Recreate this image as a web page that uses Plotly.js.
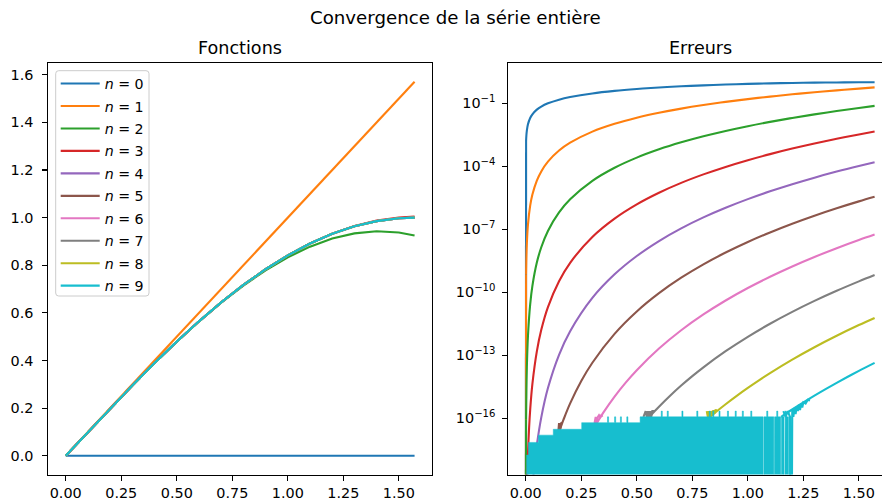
<!DOCTYPE html>
<html>
<head>
<meta charset="utf-8">
<script src="https://cdn.plot.ly/plotly-3.0.1.min.js"></script>
<style>html,body{margin:0;padding:0;background:#fff;}#chart{width:882px;height:503px;}</style>
</head>
<body>
<div id="chart"></div>
<script>
// ---------- DATA ----------
const colors = ["#1f77b4","#ff7f0e","#2ca02c","#d62728","#9467bd","#8c564b","#e377c2","#7f7f7f","#bcbd22","#17becf"];

// Left panel: "Fonctions" (partial sums)
const xF = [0,0.1,0.2,0.3,0.4,0.5,0.6,0.7,0.8,0.9,1.0,1.1,1.2,1.3,1.4,1.5,1.5708];
const f0 = [0,0,0,0,0,0,0,0,0,0,0,0,0,0,0,0,0];
const f1 = [0,0.1,0.2,0.3,0.4,0.5,0.6,0.7,0.8,0.9,1.0,1.1,1.2,1.3,1.4,1.5,1.5708];
const f2 = [0,0.0998333,0.1986667,0.2955,0.3893333,0.4791667,0.564,0.6428333,0.7146667,0.7785,0.8333333,0.8781667,0.912,0.9338333,0.9426667,0.9375,0.9248323];
const f3 = [0,0.0998334,0.1986693,0.2955203,0.3894187,0.4794271,0.564648,0.6442339,0.7173974,0.7834208,0.8416667,0.8915876,0.932736,0.9647744,0.9874854,1.0007813,1.0045249];
const f4 = [0,0.0998334,0.1986693,0.2955202,0.3894183,0.4794255,0.5646425,0.6442176,0.7173558,0.7833259,0.8414683,0.8912009,0.932025,0.9635294,0.9853939,0.9973912,0.9998431];
const f5 = [0,0.0998334,0.1986693,0.2955202,0.3894183,0.4794255,0.5646425,0.6442177,0.7173561,0.7833269,0.8414710,0.8912074,0.9320392,0.9635586,0.9854508,0.9974971,1.0000035];
const f6 = [0,0.0998334,0.1986693,0.2955202,0.3894183,0.4794255,0.5646425,0.6442177,0.7173561,0.7833269,0.8414710,0.8912074,0.9320391,0.9635582,0.9854497,0.9974950,1.0000000];
const f7 = [0,0.0998334,0.1986693,0.2955202,0.3894183,0.4794255,0.5646425,0.6442177,0.7173561,0.7833269,0.8414710,0.8912074,0.9320391,0.9635582,0.9854497,0.9974950,1.0000000];
const f8 = [0,0.0998334,0.1986693,0.2955202,0.3894183,0.4794255,0.5646425,0.6442177,0.7173561,0.7833269,0.8414710,0.8912074,0.9320391,0.9635582,0.9854497,0.9974950,1.0000000];
const f9 = [0,0.0998334,0.1986693,0.2955202,0.3894183,0.4794255,0.5646425,0.6442177,0.7173561,0.7833269,0.8414710,0.8912074,0.9320391,0.9635582,0.9854497,0.9974950,1.0000000];

// Right panel: "Erreurs" (absolute error, log scale). Smooth parts:
const xE0 = [0.0016,0.003,0.005,0.01,0.02,0.03,0.05,0.07,0.1,0.15,0.2,0.3,0.4,0.5,0.6,0.7,0.8,0.9,1.0,1.1,1.2,1.3,1.4,1.5,1.5708];
const e0 = [1.6e-3,3.0e-3,5.0e-3,1.0e-2,1.9999e-2,2.9996e-2,4.9979e-2,6.9943e-2,9.9833e-2,0.149438,0.198669,0.295520,0.389418,0.479426,0.564642,0.644218,0.717356,0.783327,0.841471,0.891207,0.932039,0.963558,0.985450,0.997495,1.0];
const xE1 = xE0;
const e1 = [6.83e-10,4.50e-9,2.083e-8,1.6667e-7,1.3333e-6,4.4998e-6,2.0831e-5,5.715e-5,1.6658e-4,5.619e-4,1.3307e-3,4.4798e-3,1.05817e-2,2.05745e-2,3.53575e-2,5.57823e-2,8.26439e-2,0.1166731,0.158529,0.2087926,0.2679609,0.3364418,0.4145503,0.502505,0.5707963];
const xE2 = xE0;
const e2 = [8.74e-17,2.025e-15,2.604e-14,8.333e-13,2.667e-11,2.025e-10,2.604e-9,1.4006e-8,8.331e-8,6.325e-7,2.6641e-6,2.0207e-5,8.501e-5,2.5888e-4,6.4248e-4,1.38435e-3,2.6894e-3,4.8269e-3,8.1377e-3,1.30407e-2,2.00391e-2,2.97249e-2,4.2783e-2,5.9995e-2,7.5168e-2];
const xE3 = [0.005,0.007,0.01,0.015,0.02,0.03,0.05,0.07,0.1,0.15,0.2,0.3,0.4,0.5,0.6,0.7,0.8,0.9,1.0,1.1,1.2,1.3,1.4,1.5,1.5708];
const e3 = [1.55e-20,1.63e-19,1.984e-18,3.39e-17,2.54e-16,4.339e-15,1.550e-13,1.634e-12,1.984e-11,3.389e-10,2.5383e-9,4.3339e-8,3.2436e-7,1.54473e-6,5.52661e-6,1.62294e-5,4.12423e-5,9.38403e-5,1.95682e-4,3.80224e-4,6.96916e-4,1.21624e-3,2.03562e-3,3.2863e-3,4.525e-3];
const xE4 = [0.03,0.04,0.05,0.07,0.1,0.15,0.2,0.3,0.4,0.5,0.6,0.7,0.8,0.9,1.0,1.1,1.2,1.3,1.4,1.5,1.5708];
const e4 = [5.42e-20,7.22e-19,5.383e-18,1.112e-16,2.7557e-15,1.0593e-13,1.4099e-12,5.4199e-11,7.21348e-10,5.37006e-9,2.76806e-8,1.10711e-7,3.67725e-7,1.05981e-6,2.73084e-6,6.42694e-6,1.40341e-5,2.87791e-5,5.59346e-5,1.03799e-4,1.56899e-4];
const xE5 = [0.1,0.12,0.14,0.15,0.16,0.17,0.2,0.25,0.3,0.4,0.5,0.6,0.7,0.8,0.9,1.0,1.1,1.2,1.3,1.4,1.5,1.5708];
const e5 = [2.505e-19,1.862e-18,1.01e-17,2.167e-17,4.41e-17,8.59e-17,5.131e-16,5.974e-15,4.435e-14,1.0496e-12,1.2213e-11,9.068e-11,4.938e-10,2.1426e-9,7.819e-9,2.4892e-8,7.0912e-8,1.8445e-7,4.4417e-7,1.00179e-6,2.13536e-6,3.5417e-6];
const xE6 = [0.25,0.3,0.33,0.35,0.4,0.45,0.5,0.6,0.7,0.8,0.9,1.0,1.1,1.2,1.3,1.4,1.5,1.5708];
const e6 = [2.393e-18,2.56e-17,8.84e-17,1.9e-16,1.0776e-15,4.98e-15,1.9583e-14,2.0934e-13,1.5524e-12,8.8018e-12,4.0647e-11,1.5983e-10,5.5099e-10,1.7062e-9,4.8245e-9,1.2625e-8,3.0917e-8,5.6255e-8];
const xE7 = [0.5,0.52,0.55,0.58,0.6,0.65,0.7,0.75,0.8,0.9,1.0,1.1,1.2,1.3,1.4,1.5,1.5708];
const e7 = [2.333e-17,4.2e-17,9.75e-17,2.16e-16,3.594e-16,1.194e-15,3.625e-15,1.0219e-14,2.684e-14,1.5693e-13,7.6191e-13,3.1794e-12,1.1717e-11,3.8893e-11,1.1810e-10,3.3209e-10,6.628e-10];
const xE8 = [0.75,0.8,0.82,0.85,0.87,0.9,0.95,1.0,1.05,1.1,1.2,1.3,1.4,1.5,1.5708];
const e8 = [2.11e-17,6.33e-17,9.63e-17,1.774e-16,2.634e-16,4.688e-16,1.1755e-15,2.8033e-15,6.425e-15,1.4158e-14,6.2102e-14,2.4187e-13,8.5234e-13,2.7511e-12,6.0235e-12];
const xE9 = [1.15,1.2,1.25,1.3,1.35,1.4,1.45,1.5,1.5708];
const e9 = [1.170e-16,2.626e-16,5.705e-16,1.197e-15,2.4507e-15,4.8901e-15,9.5217e-15,1.8130e-14,4.3509e-14];

// Right panel: round-off / zero-error parts (0 = exact zero error)
const xN0 = [0,0.0016], eN0 = [0,1.6e-3];
const xN1 = [0,0.0016], eN1 = [0,6.83e-10];
const xN2 = [0,0.0016], eN2 = [0,8.74e-17];
const xN5 = [0.145,0.15,0.155,0.16,0.165], eN5 = [1.4e-17,5.9e-17,3.0e-17,5.9e-17,6.18e-17];
const xN6 = [0.31,0.315,0.32,0.325,0.33,0.335,0.34,0.345], eN6 = [6.0e-17,1.17e-16,6.0e-17,1.17e-16,1.4e-16,1.17e-16,1.45e-16,1.17e-16];
const xN7 = [0.53,0.54,0.545,0.55,0.555,0.56,0.565,0.57,0.575,0.58], eN7 = [1.17e-16,2.2e-16,1.17e-16,2.2e-16,1.17e-16,2.2e-16,1.17e-16,2.2e-16,2.2e-16,2.16e-16];
const xN8 = [0.815,0.82,0.825,0.83,0.835,0.84,0.845,0.85,0.855,0.86], eN8 = [2.2e-16,1.17e-16,2.2e-16,1.17e-16,2.2e-16,1.6e-16,2.4e-16,1.774e-16,2.6e-16,2.2e-16];
const xN9 = [1.16,1.17,1.18,1.19,1.195,1.2,1.205,1.21,1.215,1.22,1.225,1.23,1.235,1.24,1.245,1.25,1.26,1.27,1.28];
const eN9 = [2.2e-16,1.17e-16,2.2e-16,1.17e-16,0,2.626e-16,1.17e-16,3.1e-16,1.6e-16,3.6e-16,2.2e-16,4.4e-16,2.5e-16,5.0e-16,3.3e-16,5.7e-16,5.0e-16,7.7e-16,7.0e-16];

// Round-off floor of the n = 9 error (dense cyan band): step levels, spikes, white gaps
const floorEdges = [0.004,0.0125,0.057,0.124,0.252,0.515,1.195];
const floorLevels = [1.78e-18,7.1e-18,1.58e-17,3.0e-17,6.2e-17,1.17e-16];
const spikeX = [0.368,0.400,0.426,0.455,0.610,0.637,0.703,0.770,0.826,0.842,0.870,0.908,0.943,0.975,1.013,1.085,1.130,1.168];
const spikeErr = [1.17e-16,1.17e-16,1.17e-16,1.17e-16,2.2e-16,2.2e-16,2.2e-16,2.2e-16,2.2e-16,2.2e-16,2.2e-16,2.2e-16,2.2e-16,2.2e-16,2.2e-16,2.2e-16,2.2e-16,2.2e-16];
const gapX = [1.069,1.117,1.148,1.163,1.183];

// Tick labels
const linTicks = [0,0.25,0.5,0.75,1.0,1.25,1.5];
const linTickText = ["0.00","0.25","0.50","0.75","1.00","1.25","1.50"];
const yLeftTicks = [0,0.2,0.4,0.6,0.8,1.0,1.2,1.4,1.6];
const yLeftTickText = ["0.0","0.2","0.4","0.6","0.8","1.0","1.2","1.4","1.6"];
const logTicks = [1e-1,1e-4,1e-7,1e-10,1e-13,1e-16];
const logTickText = ["10<sup>\u22121</sup>","10<sup>\u22124</sup>","10<sup>\u22127</sup>","10<sup>\u221210</sup>","10<sup>\u221213</sup>","10<sup>\u221216</sup>"];

// ---------- BUILD ----------
const FONT = "DejaVu Sans, sans-serif";
const LW = 2.1;
const ZERO_ON_LOG = 1e-30; // non-positive values are pushed far below the log axis, like matplotlib
const clip = arr => arr.map(v => v > 0 ? v : ZERO_ON_LOG);

const fSeries = [f0,f1,f2,f3,f4,f5,f6,f7,f8,f9];
const eX = [xE0,xE1,xE2,xE3,xE4,xE5,xE6,xE7,xE8,xE9];
const eY = [e0,e1,e2,e3,e4,e5,e6,e7,e8,e9];
const nX = {0:xN0,1:xN1,2:xN2,5:xN5,6:xN6,7:xN7,8:xN8};
const nY = {0:eN0,1:eN1,2:eN2,5:eN5,6:eN6,7:eN7,8:eN8};

const traces = [];
for (let i = 0; i < 10; i++) {
  traces.push({
    type: "scatter", mode: "lines", x: xF, y: fSeries[i],
    name: "<i>n</i> = " + i, legendgroup: "g" + i,
    line: {color: colors[i], width: LW}, xaxis: "x", yaxis: "y", hoverinfo: "skip"
  });
}
function errTrace(x, y, i, smooth) {
  return {type: "scatter", mode: "lines", x: x, y: clip(y), showlegend: false, legendgroup: "g" + i,
    line: {color: colors[i], width: LW, shape: smooth ? "spline" : "linear", smoothing: 1},
    xaxis: "x2", yaxis: "y2", hoverinfo: "skip"};
}
for (let i = 0; i < 9; i++) {
  if (nX[i]) traces.push(errTrace(nX[i], nY[i], i, false));
  traces.push(errTrace(eX[i], eY[i], i, true));
}
// floor band for n = 9
(function(){
  const bps = new Set(floorEdges);
  spikeX.forEach(s => { bps.add(s); bps.add(+(s + 0.005).toFixed(4)); });
  gapX.forEach(g => { bps.add(g); bps.add(+(g + 0.0035).toFixed(4)); });
  const lo = floorEdges[0], hi = floorEdges[floorEdges.length - 1];
  const pts = Array.from(bps).filter(v => v >= lo && v <= hi).sort((a,b) => a - b);
  const px = [lo], py = [ZERO_ON_LOG];
  for (let k = 0; k < pts.length - 1; k++) {
    const a = pts[k], b = pts[k+1], m = (a + b) / 2;
    let v = 0;
    for (let j = 0; j < floorLevels.length; j++) if (m >= floorEdges[j] && m < floorEdges[j+1]) v = floorLevels[j];
    spikeX.forEach((s, j) => { if (m >= s && m < s + 0.005) v = Math.max(v, spikeErr[j]); });
    gapX.forEach(g => { if (m >= g && m < g + 0.0035) v = 0; });
    const y = v > 0 ? v : ZERO_ON_LOG;
    px.push(a, b); py.push(y, y);
  }
  px.push(hi); py.push(ZERO_ON_LOG);
  traces.push({
    type: "scatter", mode: "lines", x: px, y: py, fill: "toself", fillcolor: colors[9],
    line: {color: colors[9], width: 0.5}, showlegend: false, legendgroup: "g9",
    xaxis: "x2", yaxis: "y2", hoverinfo: "skip"
  });
})();
traces.push(errTrace(xN9, eN9, 9, false));
traces.push(errTrace(xE9, e9, 9, true));

const W = 882, H = 503;
const yDom = [1 - 474.5 / H, 1 - 63 / H];
const axCommon = {
  showgrid: false, zeroline: false, showline: true, linecolor: "#000", linewidth: 1,
  ticks: "outside", ticklen: 5, tickwidth: 1.1, tickcolor: "#000",
  tickfont: {family: FONT, size: 14.4, color: "#000"}, tickmode: "array"
};
// legend frame (matplotlib style, rounded corners) in pixel coords
const LB = {x0: 55.7, x1: 149, y0: 70.7, y1: 296, r: 3};
const px2x = v => v / W, px2y = v => 1 - v / H;
const framePath = "M" + px2x(LB.x0 + LB.r) + "," + px2y(LB.y0) +
  " L" + px2x(LB.x1 - LB.r) + "," + px2y(LB.y0) +
  " Q" + px2x(LB.x1) + "," + px2y(LB.y0) + " " + px2x(LB.x1) + "," + px2y(LB.y0 + LB.r) +
  " L" + px2x(LB.x1) + "," + px2y(LB.y1 - LB.r) +
  " Q" + px2x(LB.x1) + "," + px2y(LB.y1) + " " + px2x(LB.x1 - LB.r) + "," + px2y(LB.y1) +
  " L" + px2x(LB.x0 + LB.r) + "," + px2y(LB.y1) +
  " Q" + px2x(LB.x0) + "," + px2y(LB.y1) + " " + px2x(LB.x0) + "," + px2y(LB.y1 - LB.r) +
  " L" + px2x(LB.x0) + "," + px2y(LB.y0 + LB.r) +
  " Q" + px2x(LB.x0) + "," + px2y(LB.y0) + " " + px2x(LB.x0 + LB.r) + "," + px2y(LB.y0) + " Z";

const layout = {
  width: W, height: H, margin: {l: 0, r: 0, t: 0, b: 0},
  paper_bgcolor: "#fff", plot_bgcolor: "#fff",
  font: {family: FONT, color: "#000"},
  showlegend: true,
  legend: {
    x: 55.7 / W, y: 1 - 67.8 / H, xanchor: "left", yanchor: "top",
    bgcolor: "rgba(255,255,255,0)", borderwidth: 0,
    font: {family: FONT, size: 14.2, color: "#000"}, tracegroupgap: 1, itemwidth: 39
  },
  shapes: [
    {type: "path", xref: "paper", yref: "paper", path: framePath,
     fillcolor: "rgba(255,255,255,0.8)", line: {color: "#cccccc", width: 1}, layer: "above"}
  ],
  xaxis: Object.assign({}, axCommon, {domain: [48.3 / W, 432 / W], range: [-0.0785, 1.6493],
    tickvals: linTicks, ticktext: linTickText, mirror: true, anchor: "y"}),
  yaxis: Object.assign({}, axCommon, {domain: yDom, range: [-0.0785, 1.6493],
    tickvals: yLeftTicks, ticktext: yLeftTickText, mirror: true, anchor: "x", ticklabelstandoff: 6}),
  xaxis2: Object.assign({}, axCommon, {domain: [508.3 / W, 1], range: [-0.0785, 1.6041],
    tickvals: linTicks, ticktext: linTickText, mirror: true, anchor: "y2"}),
  yaxis2: Object.assign({}, axCommon, {domain: yDom, type: "log", range: [-18.676, 0.919],
    tickvals: logTicks, ticktext: logTickText, mirror: false, anchor: "x2", ticklabelstandoff: 4}),
  annotations: [
    {text: "Convergence de la série entière", x: 455.8 / W, y: 1 - 17.5 / H, xref: "paper", yref: "paper",
     xanchor: "center", yanchor: "middle", showarrow: false, font: {family: FONT, size: 18.2, color: "#000"}},
    {text: "Fonctions", x: 240.2 / W, y: 1 - 48.5 / H, xref: "paper", yref: "paper",
     xanchor: "center", yanchor: "middle", showarrow: false, font: {family: FONT, size: 17.6, color: "#000"}},
    {text: "Erreurs", x: 700 / W, y: 1 - 48.5 / H, xref: "paper", yref: "paper",
     xanchor: "center", yanchor: "middle", showarrow: false, font: {family: FONT, size: 17.6, color: "#000"}}
  ]
};
Plotly.newPlot("chart", traces, layout, {staticPlot: true, displayModeBar: false});
</script>
</body>
</html>
